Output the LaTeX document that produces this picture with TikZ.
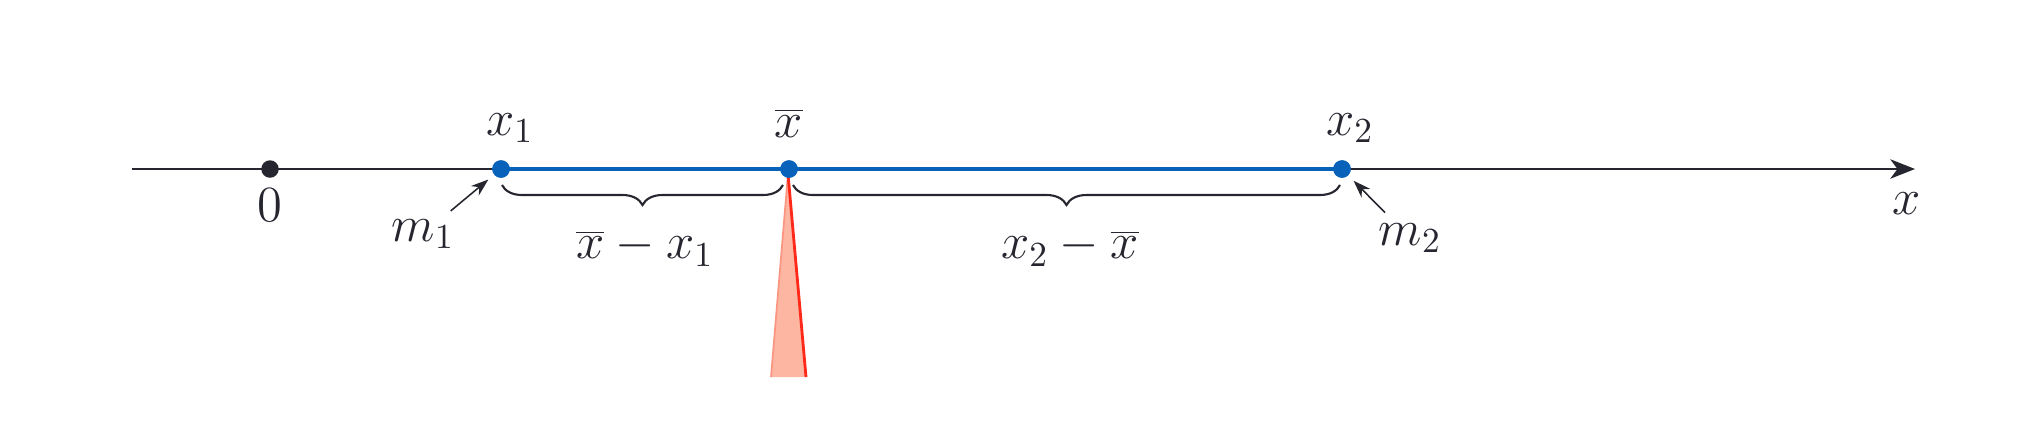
\documentclass[tikz,border=0pt]{standalone}
\usetikzlibrary{arrows.meta,decorations.pathreplacing}
\definecolor{ink}{RGB}{38,38,48}
\definecolor{segblue}{RGB}{8,98,186}
\definecolor{fulfill}{RGB}{252,182,162}
\definecolor{fuledge}{RGB}{250,150,130}
\definecolor{fulred}{RGB}{255,40,25}
\begin{document}
\begin{tikzpicture}[x=0.01cm,y=-0.01cm,
 dot/.style={circle,inner sep=0pt,minimum size=0.175cm},
 lbl/.style={inner sep=0pt,text=ink,font=\fontsize{14.5}{17}\selectfont},
 ptr/.style={ink,line width=0.45pt,-{Stealth[length=5pt,width=3.5pt]}},
 brc/.style={ink,line width=0.6pt,decorate,decoration={brace,amplitude=0.2cm,mirror}}]
\useasboundingbox (0,0) rectangle (2042,430);
% fulcrum
\coordinate (apex) at (788,174);
\coordinate (bl) at (771,377);
\coordinate (br) at (806,377);
\fill[fulfill] (apex) -- (bl) -- (br) -- cycle;
\draw[fuledge,line width=0.5pt] (apex) -- (bl);
\draw[fulred,line width=0.8pt] (apex) -- (br);
% axis
\coordinate (start) at (132,169);
\coordinate (end) at (1915,169);
\draw[ink,line width=0.7pt,-{Stealth[length=7pt,width=5.5pt,inset=2pt]}] (start) -- (end);
\node[dot,fill=ink] (o) at (270,169) {};
\node[dot,fill=segblue] (p1) at (501,169) {};
\node[dot,fill=segblue] (pb) at (789,169) {};
\node[dot,fill=segblue] (p2) at (1342,169) {};
\draw[segblue,line width=1.4pt] (p1.center) -- (p2.center);
\node[dot,fill=segblue] at (p1) {};
\node[dot,fill=segblue] at (pb) {};
\node[dot,fill=segblue] at (p2) {};
% labels
\node[lbl] (l0) at (270,205) {$0$};
\node[lbl] (lx1) at (510,128) {$x_1$};
\node[lbl] (lxb) at (789,123) {$\overline{x}$};
\node[lbl] (lx2) at (1350,128) {$x_2$};
\node[lbl] (lx) at (1907,204) {$x$};
\node[lbl] (m1) at (423,234) {$m_1$};
\node[lbl] (m2) at (1410,238) {$m_2$};
% pointers
\draw[ptr,shorten <=0.12cm,shorten >=0.07cm] (m1) -- (p1);
\draw[ptr,shorten <=0.14cm,shorten >=0.07cm] (m2) -- (p2);
% braces
\coordinate (b1a) at (502,185);
\coordinate (b1b) at (783,185);
\coordinate (b2a) at (793,185);
\coordinate (b2b) at (1340,185);
\draw[brc] (b1a) -- (b1b);
\draw[brc] (b2a) -- (b2b);
\node[lbl] (d1) at (645,248) {$\overline{x}-x_1$};
\node[lbl] (d2) at (1070,248) {$x_2-\overline{x}$};
\end{tikzpicture}
\end{document}
